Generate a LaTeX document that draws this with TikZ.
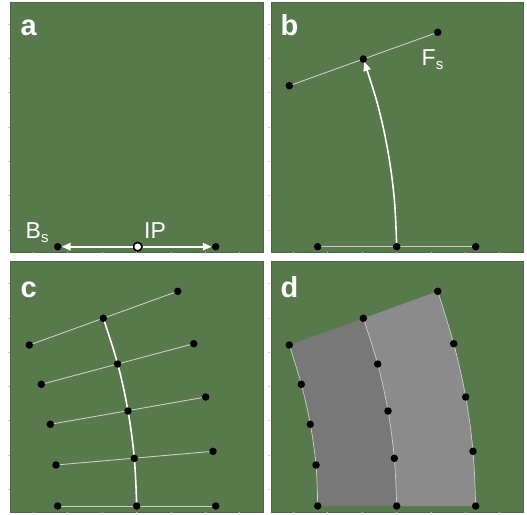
\documentclass[tikz,border=0pt]{standalone}
\usepackage{fontspec}
\setmainfont{Liberation Sans}
\usetikzlibrary{arrows.meta}
\definecolor{bg}{RGB}{87,121,75}
\definecolor{bgedge}{RGB}{74,104,64}
\definecolor{polyA}{RGB}{120,120,120}
\definecolor{polyB}{RGB}{139,139,139}
\definecolor{thinline}{RGB}{205,205,200}
\definecolor{tickc}{RGB}{200,200,200}
\tikzset{
  panel/.style={fill=bg,draw=bgedge,line width=0.5pt},
  dot/.style={circle,fill=black,inner sep=0pt,minimum size=7.5pt},
  opendot/.style={circle,fill=white,draw=black,line width=1.6pt,inner sep=0pt,minimum size=8.5pt},
  conn/.style={draw=thinline,line width=0.9pt},
  spine/.style={draw=white,line width=1.6pt},
  warrow/.style={draw=white,line width=1.6pt,-{Triangle[length=9pt,width=7.5pt,fill=white]}},
  plabel/.style={text=white,font=\bfseries\fontsize{29}{29}\selectfont,anchor=base west,inner sep=0pt},
  tlabel/.style={text=white,font=\fontsize{23}{23}\selectfont,anchor=base west,inner sep=0pt},
  tick/.style={draw=tickc,line width=0.6pt}
}
\begin{document}
\begin{tikzpicture}[x=1pt,y=-1pt]
\useasboundingbox (0,0) rectangle (527,514);
% panels
\path[panel] (10,2) rectangle (263,252);
\path[panel] (271,2) rectangle (523,252);
\path[panel] (10,261) rectangle (263,512);
\path[panel] (271,261) rectangle (523,512);
% ticks
\foreach \ox/\oy in {0/0,260/0,0/259.5,260/259.5}{
  \foreach \k in {0,...,6}{
    \draw[tick] ({\ox+33.3+34.4*\k},{\oy+252}) -- ++(0,2);
    \draw[tick] ({\ox+10},{\oy+24+34.3*\k}) -- ++(-2,0);
  }
}
% panel labels
\node[plabel] (la) at (20.5,35) {a};
\node[plabel] (lb) at (280.5,35) {b};
\node[plabel] (lc) at (20.5,297.5) {c};
\node[plabel] (ld) at (280.5,297.5) {d};

% ---------- panel a ----------
\node[dot] (aL) at (57.7,246.7) {};
\node[dot] (aR) at (215.7,246.7) {};
\node[opendot] (aIP) at (137.7,246.7) {};
\draw[warrow] (aIP) -- (aL);
\draw[warrow] (aIP) -- (aR);
\node[tlabel] (lBs) at (25.5,238.5) {B\raisebox{-0.35ex}{\fontsize{15}{15}\selectfont s}};
\node[tlabel] (lIP) at (144,238.5) {IP};

% ---------- panel b ----------
\coordinate (bL) at (317.7,246.7);
\coordinate (bM) at (396.7,246.7);
\coordinate (bR) at (475.7,246.7);
\coordinate (fL) at (289.3,85.7);
\coordinate (fM) at (363.3,59);
\coordinate (fR) at (437.7,32.3);
\coordinate (bq2) at (377.7,104.7);
\coordinate (bq3) at (388,151.7);
\coordinate (bq4) at (394.3,199);
\draw[conn] (bL) -- (bR);
\draw[conn] (fL) -- (fR);
\draw[warrow,shorten >=3pt] plot[smooth,tension=0.6] coordinates {(bM) (bq4) (bq3) (bq2) (fM)};
\foreach \n in {bL,bM,bR,fL,fM,fR} \node[dot] (d\n) at (\n) {};
\node[tlabel] (lFs) at (421.5,65.5) {F\raisebox{-0.35ex}{\fontsize{15}{15}\selectfont s}};

% ---------- panel c ----------
\coordinate (c1l) at (29.3,345);   \coordinate (c1m) at (103.3,318.3); \coordinate (c1r) at (177.7,291.3);
\coordinate (c2l) at (41.3,384.3); \coordinate (c2m) at (117.7,364);   \coordinate (c2r) at (193.7,343.7);
\coordinate (c3l) at (50.3,424.3); \coordinate (c3m) at (128,411);     \coordinate (c3r) at (205.7,397);
\coordinate (c4l) at (56,465);     \coordinate (c4m) at (134.3,458.3); \coordinate (c4r) at (213,451.3);
\coordinate (c5l) at (57.7,506);   \coordinate (c5m) at (136.7,506);   \coordinate (c5r) at (215.7,506);
\foreach \i in {1,...,5} \draw[conn] (c\i l) -- (c\i r);
\draw[spine] plot[smooth,tension=0.6] coordinates {(c1m) (c2m) (c3m) (c4m) (c5m)};
\foreach \i in {1,...,5} {
  \node[dot] (dc\i l) at (c\i l) {};
  \node[dot] (dc\i m) at (c\i m) {};
  \node[dot] (dc\i r) at (c\i r) {};
}

% ---------- panel d ----------
\coordinate (e1l) at (289.3,345);   \coordinate (e1m) at (363.3,318.3); \coordinate (e1r) at (437.7,291.3);
\coordinate (e2l) at (301.3,384.3); \coordinate (e2m) at (377.7,364);   \coordinate (e2r) at (453.7,343.7);
\coordinate (e3l) at (310.3,424.3); \coordinate (e3m) at (388,411);     \coordinate (e3r) at (465.7,397);
\coordinate (e4l) at (316,465);     \coordinate (e4m) at (394.3,458.3); \coordinate (e4r) at (473,451.3);
\coordinate (e5l) at (317.7,506);   \coordinate (e5m) at (396.7,506);   \coordinate (e5r) at (475.7,506);
\fill[polyA] plot[smooth,tension=0.6] coordinates {(e1l) (e2l) (e3l) (e4l) (e5l)}
  -- plot[smooth,tension=0.6] coordinates {(e5m) (e4m) (e3m) (e2m) (e1m)} -- cycle;
\fill[polyB] plot[smooth,tension=0.6] coordinates {(e1m) (e2m) (e3m) (e4m) (e5m)}
  -- plot[smooth,tension=0.6] coordinates {(e5r) (e4r) (e3r) (e2r) (e1r)} -- cycle;
\draw[conn,line width=0.7pt] plot[smooth,tension=0.6] coordinates {(e1l) (e2l) (e3l) (e4l) (e5l)};
\draw[conn,line width=0.7pt] plot[smooth,tension=0.6] coordinates {(e1m) (e2m) (e3m) (e4m) (e5m)};
\draw[conn,line width=0.7pt] plot[smooth,tension=0.6] coordinates {(e1r) (e2r) (e3r) (e4r) (e5r)};
\foreach \i in {1,...,5} {
  \node[dot] (de\i l) at (e\i l) {};
  \node[dot] (de\i m) at (e\i m) {};
  \node[dot] (de\i r) at (e\i r) {};
}
\end{tikzpicture}
\end{document}
